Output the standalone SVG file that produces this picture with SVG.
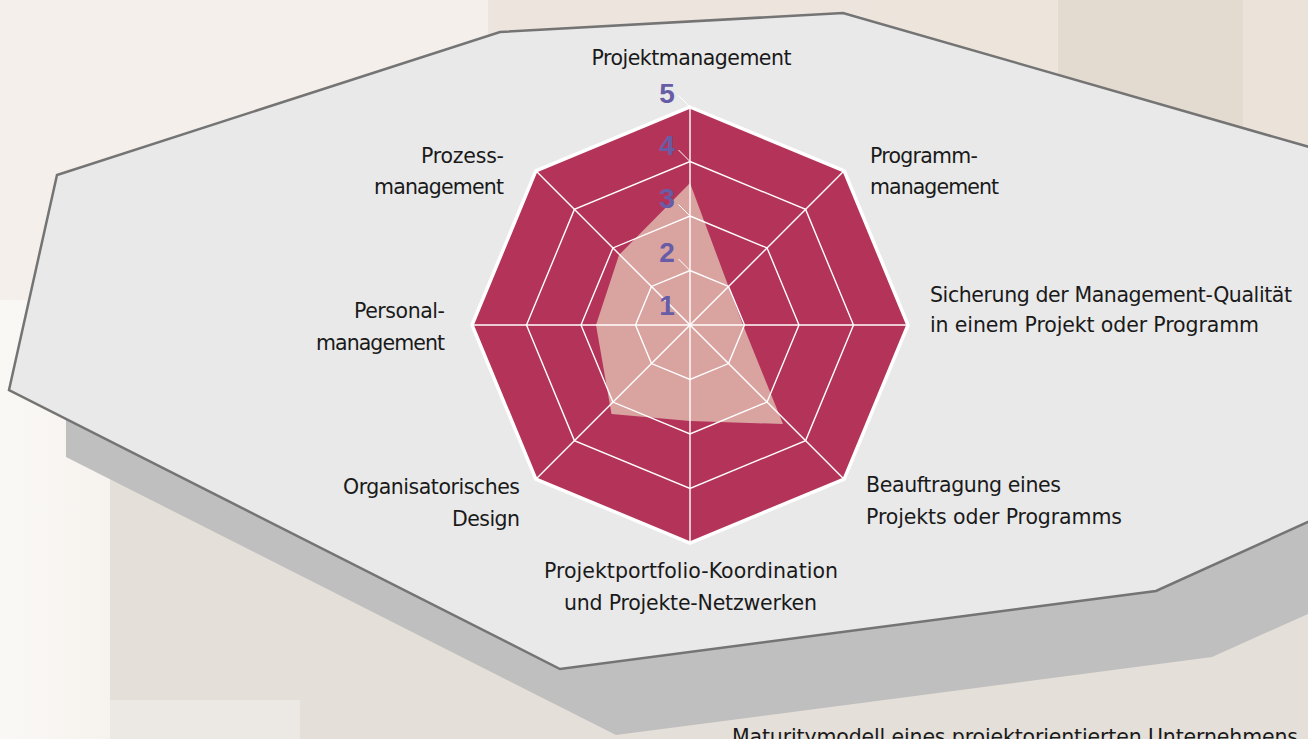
<svg xmlns="http://www.w3.org/2000/svg" width="1308" height="739" viewBox="0 0 1308 739">
<defs>
<style>
.lbl{font-family:"DejaVu Sans","Liberation Sans",sans-serif;font-size:20.5px;fill:#1a1a1a}
.num{font-family:"Liberation Sans",Arial,sans-serif;font-weight:bold;font-size:28px;fill:#675ca6;text-anchor:middle}
.ring{fill:none;stroke:#ffffff;stroke-width:1.4}
.spoke{stroke:#ffffff;stroke-width:1.4}
.lead{stroke:#ffffff;stroke-width:1}
</style>
<linearGradient id="leftfade" x1="0" y1="0" x2="1" y2="0">
<stop offset="0" stop-color="#faf8f5"/>
<stop offset="1" stop-color="#f1ebe5"/>
</linearGradient>
</defs>
<g id="background">
<rect x="0" y="0" width="1308" height="739" fill="#f4efea"/>
<rect x="488" y="0" width="380" height="40" fill="#ede5dd"/>
<rect x="868" y="0" width="190" height="130" fill="#ede5dc"/>
<rect x="1058" y="0" width="185" height="210" fill="#e4dbd0"/>
<rect x="1243" y="0" width="65" height="210" fill="#ebe3d9"/>
<rect x="0" y="300" width="270" height="439" fill="url(#leftfade)"/>
<rect x="110" y="440" width="1198" height="299" fill="#e5dfd9"/>
<rect x="110" y="700" width="190" height="39" fill="#ece8e3"/>
</g>
<g id="table">
<polygon points="66,300 66,457 616,735 1212,657 1330,604 1330,300" fill="#bfbfbf"/>
<polygon points="500,32 843,13 1330,153 1330,512 1156,591 560,669 9,390 57,175" fill="#e9e9e9" stroke="#747474" stroke-width="2.5" stroke-linejoin="miter"/>
</g>
<g id="radar">
<polygon points="690,107 844.15,170.85 908,325 844.15,479.15 690,543 535.85,479.15 472,325 535.85,170.85" fill="#b33359"/>
<polygon id="data" points="690,183 728.5,286.5 743,325 783,424 690,421 611.5,414 596,325 619,255" fill="#d9a3a0"/>
<g id="grid">
<polygon class="ring" points="690,161.5 805.61,209.39 853.5,325 805.61,440.61 690,488.5 574.39,440.61 526.5,325 574.39,209.39"/>
<polygon class="ring" points="690,216 767.07,247.93 799,325 767.07,402.07 690,434 612.93,402.07 581,325 612.93,247.93"/>
<polygon class="ring" points="690,270.5 728.54,286.46 744.5,325 728.54,363.54 690,379.5 651.46,363.54 635.5,325 651.46,286.46"/>
<line class="spoke" x1="690" y1="325" x2="690" y2="107"/>
<line class="spoke" x1="690" y1="325" x2="844.15" y2="170.85"/>
<line class="spoke" x1="690" y1="325" x2="908" y2="325"/>
<line class="spoke" x1="690" y1="325" x2="844.15" y2="479.15"/>
<line class="spoke" x1="690" y1="325" x2="690" y2="543"/>
<line class="spoke" x1="690" y1="325" x2="535.85" y2="479.15"/>
<line class="spoke" x1="690" y1="325" x2="472" y2="325"/>
<line class="spoke" x1="690" y1="325" x2="535.85" y2="170.85"/>
</g>
<polygon points="690,107 844.15,170.85 908,325 844.15,479.15 690,543 535.85,479.15 472,325 535.85,170.85" fill="none" stroke="#ffffff" stroke-width="3.5" stroke-linejoin="miter"/>
</g>
<g id="scale">
<line class="lead" x1="678.5" y1="95.5" x2="690" y2="107"/>
<line class="lead" x1="678.5" y1="150" x2="690" y2="161.5"/>
<line class="lead" x1="678.5" y1="204.5" x2="690" y2="216"/>
<line class="lead" x1="678.5" y1="259" x2="690" y2="270.5"/>
<line class="lead" x1="679" y1="314" x2="690" y2="325"/>
<text class="num" x="667" y="103">5</text>
<text class="num" x="667" y="155">4</text>
<text class="num" x="667" y="208">3</text>
<text class="num" x="667" y="262">2</text>
<text class="num" x="667" y="315">1</text>
</g>
<g id="node-projektmanagement">
<text class="lbl" x="691.5" y="65" text-anchor="middle" textLength="200" lengthAdjust="spacing">Projektmanagement</text>
</g>
<g id="node-programmmanagement">
<text class="lbl" x="870" y="163" textLength="108" lengthAdjust="spacing">Programm-</text>
<text class="lbl" x="870" y="194" textLength="129" lengthAdjust="spacing">management</text>
</g>
<g id="node-sicherung">
<text class="lbl" x="930" y="302" textLength="362" lengthAdjust="spacing">Sicherung der Management-Qualität</text>
<text class="lbl" x="930" y="332" textLength="329" lengthAdjust="spacing">in einem Projekt oder Programm</text>
</g>
<g id="node-beauftragung">
<text class="lbl" x="866" y="492" textLength="195" lengthAdjust="spacing">Beauftragung eines</text>
<text class="lbl" x="866" y="524" textLength="256" lengthAdjust="spacing">Projekts oder Programms</text>
</g>
<g id="node-projektportfolio">
<text class="lbl" x="691" y="578" text-anchor="middle" textLength="294" lengthAdjust="spacing">Projektportfolio-Koordination</text>
<text class="lbl" x="690.5" y="610" text-anchor="middle" textLength="253" lengthAdjust="spacing">und Projekte-Netzwerken</text>
</g>
<g id="node-organisatorisches">
<text class="lbl" x="520" y="494" text-anchor="end" textLength="177" lengthAdjust="spacing">Organisatorisches</text>
<text class="lbl" x="520" y="526" text-anchor="end" textLength="68" lengthAdjust="spacing">Design</text>
</g>
<g id="node-personal">
<text class="lbl" x="445" y="318" text-anchor="end" textLength="91" lengthAdjust="spacing">Personal-</text>
<text class="lbl" x="445" y="350" text-anchor="end" textLength="129" lengthAdjust="spacing">management</text>
</g>
<g id="node-prozess">
<text class="lbl" x="504" y="163" text-anchor="end" textLength="83" lengthAdjust="spacing">Prozess-</text>
<text class="lbl" x="504" y="194" text-anchor="end" textLength="130" lengthAdjust="spacing">management</text>
</g>
<g id="caption">
<text class="lbl" x="732" y="744" textLength="566" lengthAdjust="spacing">Maturitymodell eines projektorientierten Unternehmens</text>
</g>
</svg>
